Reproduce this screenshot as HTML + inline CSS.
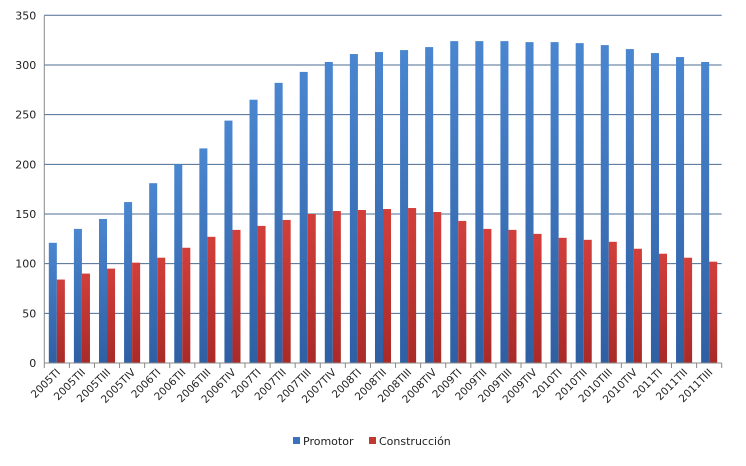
<!DOCTYPE html>
<html><head><meta charset="utf-8"><style>
body{margin:0;background:#fff;}
svg text{font-family:"DejaVu Sans","Liberation Sans",sans-serif;fill:#222;}
</style></head><body>
<svg id="chart" width="746" height="461" xmlns="http://www.w3.org/2000/svg">
<defs>
<linearGradient id="gb" x1="0" y1="0" x2="0" y2="1"><stop offset="0" stop-color="#4a86d0"/><stop offset="1" stop-color="#2f5fa3"/></linearGradient>
<linearGradient id="gr" x1="0" y1="0" x2="0" y2="1"><stop offset="0" stop-color="#d23f3b"/><stop offset="1" stop-color="#a92a27"/></linearGradient>
</defs>
<g id="grid"></g><g id="bars"></g><g id="axes"></g>
<g>
<rect x="293" y="437" width="7" height="7" fill="#3a72bd"/>
<text x="303" y="445" font-size="11">Promotor</text>
<rect x="369" y="437" width="7" height="7" fill="#c0392f"/>
<text x="379" y="445" font-size="11">Construcción</text>
</g>
</svg>
<script>
const categories=["2005TI","2005TII","2005TIII","2005TIV","2006TI","2006TII","2006TIII","2006TIV","2007TI","2007TII","2007TIII","2007TIV","2008TI","2008TII","2008TIII","2008TIV","2009TI","2009TII","2009TIII","2009TIV","2010TI","2010TII","2010TIII","2010TIV","2011TI","2011TII","2011TIII"];
const promotor=[121,135,145,162,181,200,216,244,265,282,293,303,311,313,315,318,324,324,324,323,323,322,320,316,312,308,303];
const construccion=[84,90,95,101,106,116,127,134,138,144,150,153,154,155,156,152,143,135,134,130,126,124,122,115,110,106,102];
const yTicks=[0,50,100,150,200,250,300,350];
const NS="http://www.w3.org/2000/svg";
const X0=44.3,X1=721.7,Y0=363,Y1=15.3,YMAX=350;
const cw=(X1-X0)/categories.length;
const y=v=>Y0-(v/YMAX)*(Y0-Y1);
const x=i=>X0+i*cw;
function mk(tag,attrs,parent){const e=document.createElementNS(NS,tag);for(const k in attrs)e.setAttribute(k,attrs[k]);parent.appendChild(e);return e;}
const grid=document.getElementById('grid'),bars=document.getElementById('bars'),axes=document.getElementById('axes');
yTicks.forEach(t=>{
 if(t>0){const l=mk('line',{x1:X0,x2:X1,y1:y(t),y2:y(t),stroke:'#4a6c92','stroke-width':1},grid);
 
 }
 const tx=mk('text',{x:X0-8,y:y(t)+4,'text-anchor':'end','font-size':11},axes);
 tx.textContent=t;
 
 
});
const ax=mk('line',{x1:X0,x2:X1,y1:Y0,y2:Y0,stroke:'#888','stroke-width':1},axes);


const ay=mk('line',{x1:X0,x2:X0,y1:Y1,y2:Y0,stroke:'#888','stroke-width':1},axes);


const bw=cw*0.32;
categories.forEach((c,i)=>{
 const b=mk('rect',{x:x(i)+cw*0.18,y:y(promotor[i]),width:bw,height:Y0-y(promotor[i]),fill:'url(#gb)'},bars);
 
 
 const r=mk('rect',{x:x(i)+cw*0.18+bw,y:y(construccion[i]),width:bw,height:Y0-y(construccion[i]),fill:'url(#gr)'},bars);
 
 
 const tk=mk('line',{x1:x(i),x2:x(i),y1:Y0,y2:Y0+5,stroke:'#888'},axes);
 
 
 const cx=x(i)+cw/2+4,cy=Y0+10;
 const t=mk('text',{x:cx,y:cy,'text-anchor':'end','font-size':10.5,transform:`rotate(-45 ${cx} ${cy})`},axes);
 t.textContent=c;
 
 
});
const tk=mk('line',{x1:X1,x2:X1,y1:Y0,y2:Y0+5,stroke:'#888'},axes);


</script>
</body></html>
